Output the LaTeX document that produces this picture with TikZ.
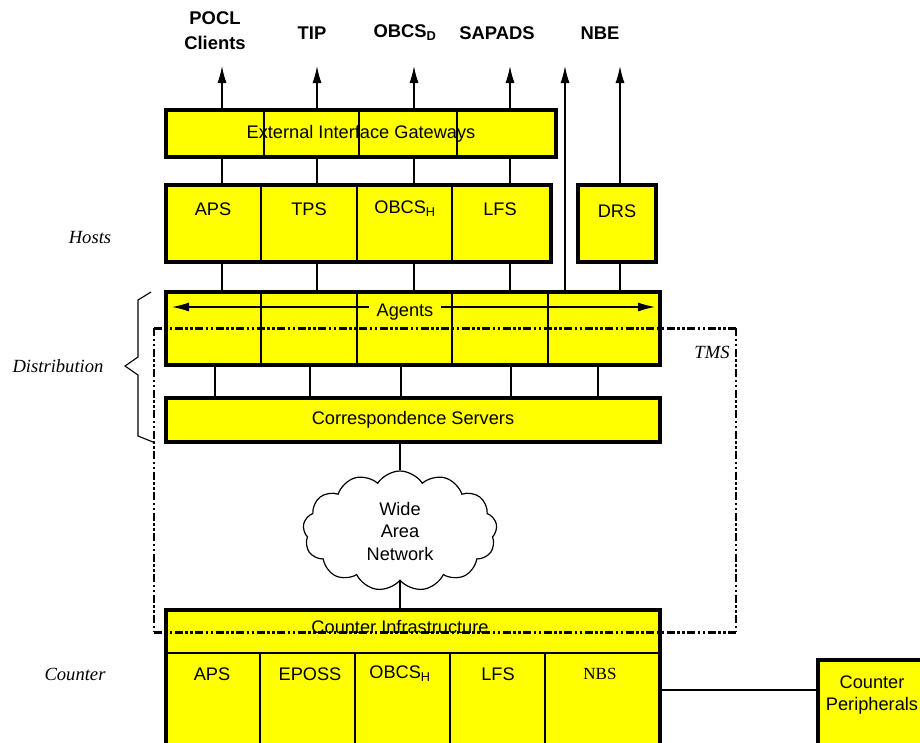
\documentclass[tikz,border=0pt]{standalone}
\usepackage{fontspec}
\setmainfont{Liberation Sans}
\newfontfamily\serifrm{Liberation Serif}
\definecolor{yellow1}{RGB}{255, 255, 0}
\usetikzlibrary{shapes.symbols, arrows.meta, positioning, calc}

\tikzset{
  blk/.style={draw, line width=3.4pt, fill=yellow1, inner sep=0pt, outer sep=0pt, anchor=north west},
  lbl/.style={font=\fontsize{18.2}{22.5}\selectfont, inner sep=1pt, align=center},
  ext/.style={font=\bfseries\fontsize{18.4}{25}\selectfont, inner sep=1pt, align=center},
  layer/.style={font=\serifrm\itshape\fontsize{18.6}{20}\selectfont},
  wire/.style={line width=1.2pt},
  tip/.style={Latex[length=17pt, width=9pt]},
  outarrow/.style={wire, -{Latex[length=17pt, width=9pt]}},
  divider/.style={line width=1.1pt},
  tms/.style={dash pattern=on 8pt off 2.5pt on 2.5pt off 2.5pt on 2.5pt off 2.5pt}
}

\begin{document}
\begin{tikzpicture}[x=1pt, y=1pt]
  \useasboundingbox (0,0) rectangle (920,-742);
  \clip (0,0) rectangle (920,-742);

  % external systems
  \node[ext] (pocl) at (215,-31) {POCL\\Clients};
  \node[ext] (tipsys) at (312,-33) {TIP};
  \node[ext] (obcsd) at (405,-33) {OBCS\textsubscript{D}};
  \node[ext] (sapads) at (497,-33) {SAPADS};
  \node[ext] (nbe) at (600,-33) {NBE};

  % boxes
  \node[blk, minimum width=390pt, minimum height=47pt] (gw) at (166,-110) {};
  \node[lbl] (gwtext) at (gw.center) {External Interface Gateways};
  \draw[divider] (264,-110) -- (264,-157) (359,-110) -- (359,-157) (457,-110) -- (457,-157);

  \node[blk, minimum width=385pt, minimum height=77pt] (hosts) at (166,-185) {};
  \node[blk, minimum width=78pt, minimum height=77pt] (drs) at (578,-185) {};
  \draw[divider] (261,-185) -- (261,-262) (357,-185) -- (357,-262) (452,-185) -- (452,-262);
  \node[lbl] (haps) at (213,-209) {APS};
  \node[lbl] (htps) at (309,-209) {TPS};
  \node[lbl] (hobcs) at (405,-209) {OBCS\textsubscript{H}};
  \node[lbl] (hlfs) at (500,-209) {LFS};
  \node[lbl] (hdrs) at (617,-211) {DRS};

  \node[blk, minimum width=494pt, minimum height=73pt] (agents) at (166,-292) {};
  \draw[divider] (261,-292) -- (261,-365) (357,-292) -- (357,-365) (452,-292) -- (452,-365) (548,-292) -- (548,-365);
  \coordinate (agl) at (172,-307);
  \coordinate (agr) at (655,-307);
  \draw[wire, {Latex[length=17pt, width=9pt]}-{Latex[length=17pt, width=9pt]}] (agl) -- (agr);
  \node[lbl, fill=yellow1, inner xsep=8pt] (agtext) at (405,-312) {Agents};

  \node[blk, minimum width=494pt, minimum height=44pt] (corr) at (166,-398) {};
  \node[lbl] (corrtext) at (corr.center) {Correspondence Servers};

  \node[cloud, draw, fill=white, line width=1.2pt, cloud puffs=13, cloud puff arc=115,
        cloud ignores aspect, minimum width=194pt, minimum height=120pt, lbl] (wan) at (400,-531) {Wide\\Area\\Network};

  \node[blk, minimum width=494pt, minimum height=200pt] (counter) at (166,-610) {};
  \draw[divider] (166,-653) -- (660,-653);
  \draw[divider] (260,-653) -- (260,-760) (355,-653) -- (355,-760) (450,-653) -- (450,-760) (545,-653) -- (545,-760);
  \node[lbl] (citext) at (400,-627) {Counter Infrastructure};
  \node[lbl] (caps) at (212,-674) {APS};
  \node[lbl] (ceposs) at (310,-674) {EPOSS};
  \node[lbl] (cobcs) at (400,-674) {OBCS\textsubscript{H}};
  \node[lbl] (clfs) at (498,-674) {LFS};
  \node[lbl, font=\serifrm\fontsize{17}{22}\selectfont] (cnbs) at (600,-674) {NBS};

  \node[blk, minimum width=108pt, minimum height=150pt] (periph) at (818,-660) {};
  \node[lbl] (periphtext) at (872,-695) {Counter\\Peripherals};

  % connectors
  \foreach \x [count=\i] in {222,317,414,510}
    \coordinate (t\i) at (\x,-66);
  \coordinate (t5) at (565,-66);
  \coordinate (t6) at (620,-66);
  \foreach \i in {1,...,4} {
    \draw[outarrow] (gw.north -| t\i) -- (t\i);
    \draw[wire] (gw.south -| t\i) -- (hosts.north -| t\i);
    \draw[wire] (hosts.south -| t\i) -- (agents.north -| t\i);
  }
  \draw[outarrow] (agents.north -| t5) -- (t5);
  \draw[outarrow] (drs.north -| t6) -- (t6);
  \draw[wire] (drs.south -| t6) -- (agents.north -| t6);

  \foreach \x [count=\i] in {215,310,401,511,598} {
    \coordinate (d\i) at (\x,0);
    \draw[wire] (agents.south -| d\i) -- (corr.north -| d\i);
  }
  \draw[wire] (corr.south -| wan.north) -- (wan.north);
  \draw[wire] (wan.south) -- (counter.north -| wan.south);
  \coordinate (pl) at (0,-690);
  \draw[wire] (counter.east |- pl) -- (periph.west |- pl);

  % TMS boundary
  \draw[tms, line width=3pt] (154,-328) -- (736,-328);
  \draw[tms, line width=3pt] (154,-632) -- (736,-632);
  \draw[tms, line width=1.2pt] (154,-328) -- (154,-632);
  \draw[tms, line width=1.2pt] (736,-328) -- (736,-632);
  \node[layer] (tmslbl) at (712,-352) {TMS};

  % layers
  \draw[line width=1.1pt] (151,-292) -- (138,-300) -- (138,-357) -- (125,-366)
    -- (138,-375) -- (138,-436) -- (153,-442);
  \node[layer] (hostslbl) at (90,-237) {Hosts};
  \node[layer] (distlbl) at (58,-366) {Distribution};
  \node[layer] (counterlbl) at (75,-674) {Counter};
\end{tikzpicture}
\end{document}
